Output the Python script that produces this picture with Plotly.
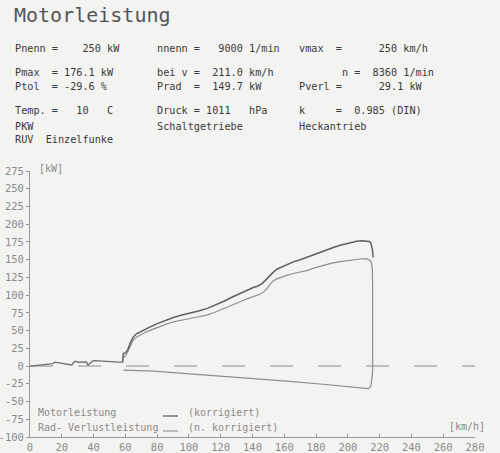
import plotly.graph_objects as go

# ---------------- data ----------------
# low-speed run-in segment (km/h, kW)
low_speed = [0, 6.3, 12.6, 14.5, 15.7, 19, 23.1, 26.2, 28.3, 30.4, 35.5, 36.5, 37.8, 39.5, 40.9, 46.1, 52, 56.6, 58.3]
low_kw = [0, 1.2, 2.5, 3.5, 5.5, 4.0, 2.6, 1.6, 6.8, 5.4, 5.8, 1.4, 3.8, 7.2, 7.6, 7.0, 6.0, 4.8, 5.2]

# Motorleistung (korrigiert)
motor_speed = [58.3, 58.7, 60.0, 61.4, 63.0, 65.0, 67.0, 69.2, 72.0, 75.0, 79.7, 85.0, 90.2, 95.0,
               100.7, 106.0, 111.2, 116.0, 121.7, 127.0, 132.2, 136.0, 140.5, 143.0, 145.8, 148.0,
               150.0, 152.5, 155.3, 158.0, 161.0, 165.7, 170.0, 174.1, 179.0, 184.6, 190.0, 195.1,
               200.0, 205.6, 209.0, 211.9, 213.5, 214.4, 215.0, 215.4, 215.7, 215.9]
motor_kw = [5.2, 17.9, 18.5, 22.5, 32.0, 41.0, 45.5, 48.3, 51.5, 54.5, 59.5, 64.5, 68.5, 71.5,
            74.1, 77.5, 81.0, 85.5, 91.0, 97.0, 102.3, 107.0, 110.8, 112.5, 116.0, 120.5,
            125.5, 131.0, 136.5, 139.5, 142.5, 146.9, 150.0, 153.5, 158.0, 162.5, 166.5, 170.4,
            173.5, 176.0, 176.6, 176.3, 175.5, 174.0, 170.0, 165.0, 159.0, 153.0]

# Rad- / Verlustleistung (n. korrigiert): run-up, coast-down drop, loss curve back
rad_speed = [58.7, 59.2, 60.5, 61.9, 63.5, 65.0, 67.0, 69.2, 72.0, 75.0, 79.7, 85.0, 90.2, 95.0,
             100.7, 106.0, 111.2, 116.0, 121.7, 127.0, 132.2, 137.0, 142.7, 145.0, 147.0, 149.0,
             151.1, 153.0, 155.3, 158.0, 161.0, 165.7, 170.0, 174.1, 179.0, 184.6, 190.0, 195.1,
             200.0, 205.6, 209.0, 211.9, 213.5, 214.4, 215.0, 215.4, 215.6, 215.7, 215.7, 215.6,
             215.4, 215.0, 214.4, 212.9, 203.5, 182.5, 161.5, 140.5, 119.6, 98.6, 77.6, 58.7]
rad_kw = [10.8, 13.0, 15.5, 22.5, 30.0, 36.6, 40.5, 43.7, 47.0, 50.0, 54.4, 58.5, 62.4, 65.0,
          67.1, 69.5, 71.8, 75.5, 81.2, 86.0, 90.6, 95.0, 99.5, 101.5, 104.6, 109.0,
          115.5, 120.0, 123.0, 125.5, 127.5, 130.5, 132.5, 134.5, 138.5, 142.2, 145.0, 147.2,
          149.0, 150.7, 151.3, 151.1, 150.0, 148.3, 144.0, 137.0, 110.0, 70.0, 20.0, -5.0,
          -12.7, -22.0, -29.1, -31.9, -29.6, -25.3, -21.1, -17.4, -13.6, -10.3, -7.0, -5.6]

x_ticks = [0, 20, 40, 60, 80, 100, 120, 140, 160, 180, 200, 220, 240, 260, 280]
y_ticks = [275, 250, 225, 200, 175, 150, 125, 100, 75, 50, 25, 0, -25, -50, -75, -100]
y_ticktext = ["275", "250", "225", "200", "175", "150", "125", "100", "75", "50", "25", "0",
              "-25", "-50", "-75", "-100"]
zero_ref = [0, 280]

# header block: (row y in px, [col1, col2, col3])
header_rows = [
    (48, ["Pnenn =    250 kW", "nnenn =   9000 1/min", "vmax  =      250 km/h"]),
    (72, ["Pmax  = 176.1 kW", "bei v =  211.0 km/h", "       n =  8360 1/min"]),
    (87, ["Ptol  = -29.6 %", "Prad  =  149.7 kW", "Pverl =      29.1 kW"]),
    (111, ["Temp. =   10   C", "Druck = 1011   hPa", "k     =  0.985 (DIN)"]),
    (126, ["PKW", "Schaltgetriebe", "Heckantrieb"]),
    (140, ["RUV  Einzelfunke", "", ""]),
]
col_x = [13, 155, 297]

W, H = 500, 453
ML, MR, MT, MB = 30, 25, 171, 16
PW, PH = W - ML - MR, H - MT - MB
MONO = "DejaVu Sans Mono, Liberation Mono, monospace"
BG = "#f3f3f1"

fig = go.Figure()

# zero reference (dashed)
fig.add_trace(go.Scatter(x=zero_ref, y=[0, 0], mode="lines",
                         line=dict(color="#8c8c8c", width=1.1, dash="23px,25px"),
                         hoverinfo="skip", showlegend=False))
fig.add_trace(go.Scatter(x=low_speed, y=low_kw, mode="lines",
                         line=dict(color="#707070", width=1.3), showlegend=False))
fig.add_trace(go.Scatter(x=rad_speed, y=rad_kw, mode="lines",
                         line=dict(color="#8e8e8e", width=1.2), showlegend=False))
fig.add_trace(go.Scatter(x=motor_speed, y=motor_kw, mode="lines",
                         line=dict(color="#606060", width=1.5), showlegend=False))

fig.update_layout(
    width=W, height=H,
    margin=dict(l=ML, r=MR, t=MT, b=MB, autoexpand=False),
    paper_bgcolor=BG, plot_bgcolor=BG,
    showlegend=False,
    xaxis=dict(range=[0, 280], tickvals=x_ticks, showgrid=False, zeroline=False,
               automargin=False,
               showline=True, linecolor="#9a9a9a", linewidth=1,
               ticks="inside", ticklen=3, tickcolor="#9a9a9a",
               tickfont=dict(family=MONO, size=10.5, color="#8a8a8a")),
    yaxis=dict(range=[-100, 275], tickvals=y_ticks, ticktext=y_ticktext,
               automargin=False,
               showgrid=False, zeroline=False,
               showline=True, linecolor="#9a9a9a", linewidth=1,
               ticks="outside", ticklen=3, tickcolor="#9a9a9a",
               tickfont=dict(family=MONO, size=10.5, color="#8a8a8a")),
)

def px_x(p):
    return (p - ML) / PW

def px_y(p):
    return (H - MB - p) / PH

ann = []
ann.append(dict(text="Motorleistung", x=px_x(12), y=px_y(15), xref="paper", yref="paper",
                xanchor="left", yanchor="middle", showarrow=False,
                font=dict(family=MONO, size=20, color="#555555")))
for row_y, cols in header_rows:
    for cx, txt in zip(col_x, cols):
        if not txt:
            continue
        ann.append(dict(text=txt.replace(" ", "&nbsp;"), x=px_x(cx), y=px_y(row_y),
                        xref="paper", yref="paper", xanchor="left", yanchor="middle",
                        showarrow=False, font=dict(family=MONO, size=10.2, color="#3a3a3a")))

small = dict(family=MONO, size=10, color="#8a8a8a")
ann += [
    dict(text="[kW]", x=px_x(37), y=px_y(169), xref="paper", yref="paper",
         xanchor="left", yanchor="middle", showarrow=False, font=small),
    dict(text="[km/h]", x=px_x(447), y=px_y(426), xref="paper", yref="paper",
         xanchor="left", yanchor="middle", showarrow=False, font=small),
    dict(text="Motorleistung", x=px_x(36), y=px_y(412), xref="paper", yref="paper",
         xanchor="left", yanchor="middle", showarrow=False, font=small),
    dict(text="(korrigiert)", x=px_x(186), y=px_y(412), xref="paper", yref="paper",
         xanchor="left", yanchor="middle", showarrow=False, font=small),
    dict(text="Rad-&nbsp;Verlustleistung", x=px_x(36), y=px_y(427), xref="paper", yref="paper",
         xanchor="left", yanchor="middle", showarrow=False, font=small),
    dict(text="(n.&nbsp;korrigiert)", x=px_x(186), y=px_y(427), xref="paper", yref="paper",
         xanchor="left", yanchor="middle", showarrow=False, font=small),
]
fig.update_layout(annotations=ann)

# legend sample strokes
fig.add_shape(type="line", xref="paper", yref="paper", x0=px_x(163), x1=px_x(178),
              y0=px_y(416), y1=px_y(416), line=dict(color="#606060", width=1.3))
fig.add_shape(type="line", xref="paper", yref="paper", x0=px_x(163), x1=px_x(178),
              y0=px_y(431), y1=px_y(431), line=dict(color="#8e8e8e", width=1.1))

fig.write_html("out.html",
               config={"displayModeBar": False},
               post_script="document.body.style.margin='0';document.body.style.overflow='hidden';")
